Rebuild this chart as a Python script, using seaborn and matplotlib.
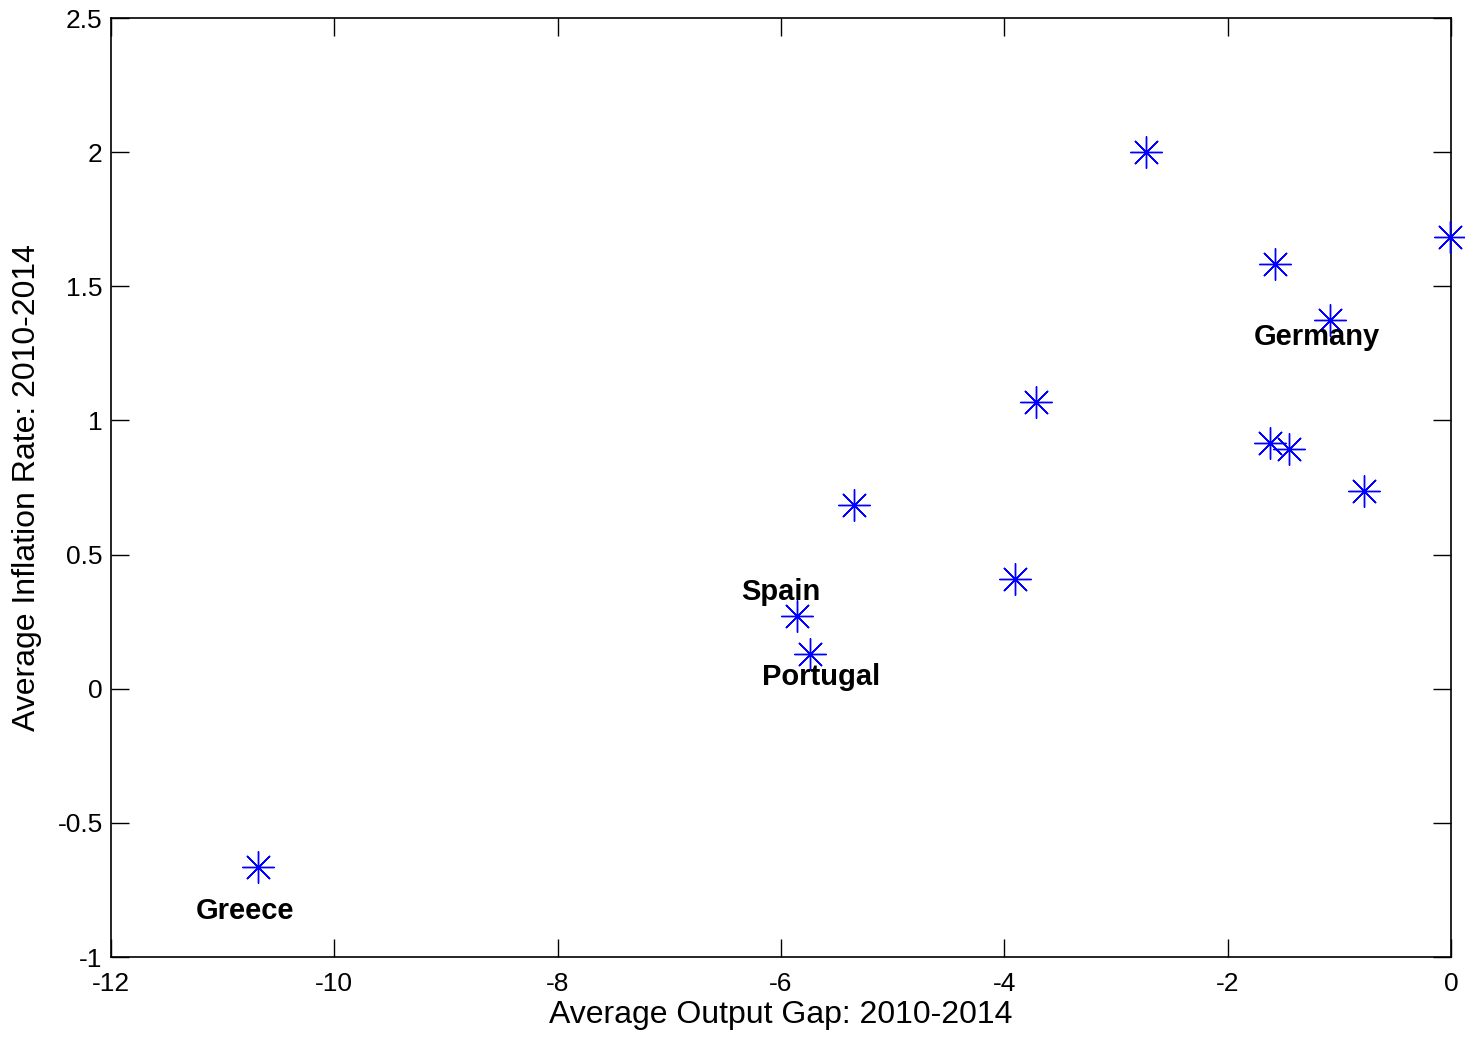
import pandas as pd
import seaborn as sns
import matplotlib.pyplot as plt

# average output gap vs average inflation, 2010-2014
output_gap = [-10.68, -2.73, -0.01, -1.58, -1.08, -3.72, -1.62, -1.45, -0.78, -5.35, -3.90, -5.86, -5.74]
inflation = [-0.664, 2.00, 1.684, 1.583, 1.374, 1.069, 0.916, 0.894, 0.737, 0.685, 0.409, 0.271, 0.130]

label_names = ["Greece", "Germany", "Spain", "Portugal"]
label_x = [-10.8, -1.2, -6.0, -5.64]
label_y = [-0.83, 1.31, 0.36, 0.045]

df = pd.DataFrame({"gap": output_gap, "infl": inflation})

sns.set_style("ticks")
plt.rcParams['font.family'] = ['Liberation Sans', 'DejaVu Sans']
plt.rcParams['text.color'] = 'black'
plt.rcParams['axes.labelcolor'] = 'black'
plt.rcParams['xtick.color'] = 'black'
plt.rcParams['ytick.color'] = 'black'

fig = plt.figure(figsize=(14.65, 10.37), dpi=100)
ax = fig.add_axes([0.0758, 0.0771, 0.9146, 0.9055])

sns.scatterplot(data=df, x="gap", y="infl", ax=ax, marker=(8, 2, 0), s=520,
                color="#0000ff", edgecolor="#0000ff", linewidth=1.0, legend=False,
                clip_on=False, zorder=3)

for name, lx, ly in zip(label_names, label_x, label_y):
    ax.text(lx, ly, name, ha="center", va="center", fontsize=21, fontweight="bold")

ax.set_xlim(-12, 0)
ax.set_ylim(-1, 2.5)
ax.set_xticks(range(-12, 1, 2))
ax.set_yticks([-1, -0.5, 0, 0.5, 1, 1.5, 2, 2.5])
ax.set_yticklabels(["-1", "-0.5", "0", "0.5", "1", "1.5", "2", "2.5"])
ax.set_xticklabels([str(v) for v in range(-12, 1, 2)])
ax.tick_params(direction="in", length=13, width=1, labelsize=19, top=True, right=True)
ax.tick_params(axis="x", pad=11)
ax.tick_params(axis="y", pad=6)
for sp in ax.spines.values():
    sp.set_visible(True)
    sp.set_linewidth(1.2)
    sp.set_color("black")

ax.set_xlabel("Average Output Gap: 2010-2014", fontsize=23, labelpad=3)
ax.set_ylabel("Average Inflation Rate: 2010-2014", fontsize=23, labelpad=11)

fig.savefig("out.png", dpi=100)
